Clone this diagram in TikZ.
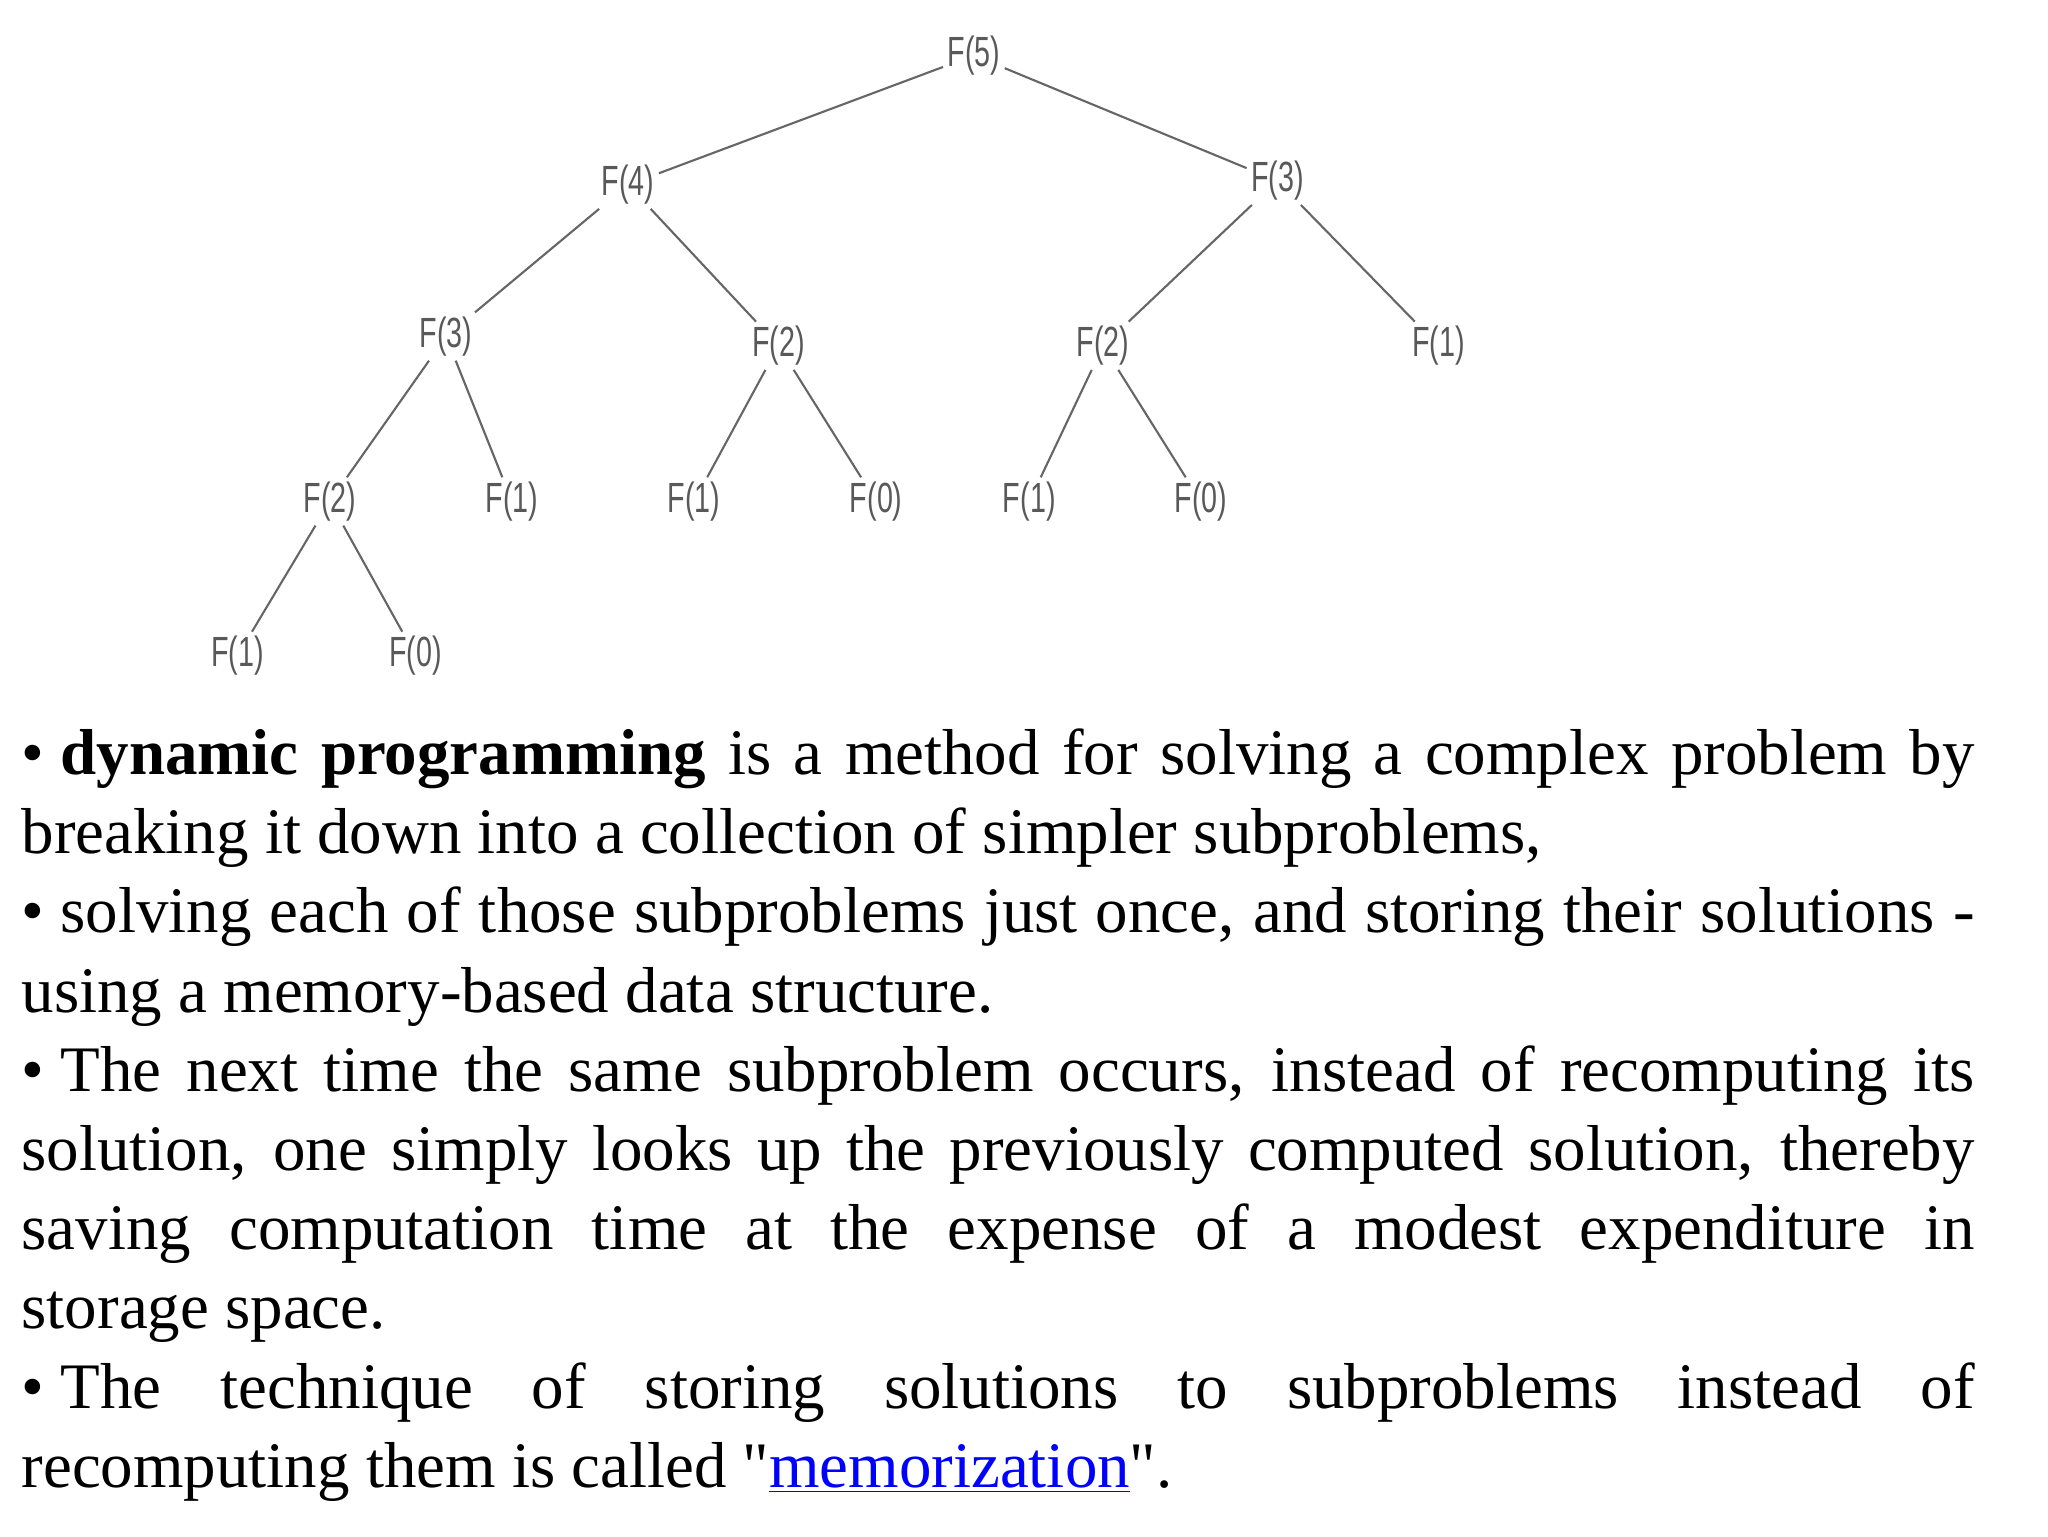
\documentclass[tikz,border=0pt]{standalone}
\usepackage{fontspec}
\setmainfont{Liberation Serif}
\newfontfamily\treefont[FakeStretch=0.68]{Liberation Sans}
\newcommand{\bul}{•\hspace{0.25em}}
\begin{document}
\begin{tikzpicture}[x=0.5pt,y=-0.5pt,
  tn/.style={font=\treefont\fontsize{16}{16}\selectfont, text=black!65, inner sep=1.5pt},
  ed/.style={draw=black!60, line width=0.8pt},
  ln/.style={anchor=base west, inner sep=0pt, font=\fontsize{24.6}{28}\selectfont}]
\useasboundingbox (0,0) rectangle (1552,1164);
\node[tn] (f5) at (738,42) {F(5)};
\node[tn] (f4) at (476,140) {F(4)};
\node[tn] (f3r) at (968,137) {F(3)};
\node[tn] (f3) at (338,255) {F(3)};
\node[tn] (f2a) at (590,262) {F(2)};
\node[tn] (f2b) at (836,262) {F(2)};
\node[tn] (f1r) at (1090,262) {F(1)};
\node[tn] (f2c) at (250,380) {F(2)};
\node[tn] (f1a) at (388,380) {F(1)};
\node[tn] (f1b) at (526,380) {F(1)};
\node[tn] (f0a) at (664,380) {F(0)};
\node[tn] (f1c) at (780,380) {F(1)};
\node[tn] (f0b) at (910,380) {F(0)};
\node[tn] (f1d) at (180,497) {F(1)};
\node[tn] (f0c) at (315,497) {F(0)};
\foreach \a/\b in {f5/f4,f5/f3r,f4/f3,f4/f2a,f3r/f2b,f3r/f1r,f3/f2c,f3/f1a,f2a/f1b,f2a/f0a,f2b/f1c,f2b/f0b,f2c/f1d,f2c/f0c}
  \draw[ed] (\a) -- (\b);
\node[ln] (l1) at (16,587) {\makebox[740pt][s]{\bul\textbf{dynamic programming} is a method for solving a complex problem by}};
\node[ln] (l2) at (16,647) {breaking it down into a collection of simpler subproblems,};
\node[ln] (l3) at (16,707) {\makebox[740pt][s]{\bul solving each of those subproblems just once, and storing their solutions -}};
\node[ln] (l4) at (16,767) {using a memory-based data structure.};
\node[ln] (l5) at (16,827) {\makebox[740pt][s]{\bul The next time the same subproblem occurs, instead of recomputing its}};
\node[ln] (l6) at (16,887) {\makebox[740pt][s]{solution, one simply looks up the previously computed solution, thereby}};
\node[ln] (l7) at (16,947) {\makebox[740pt][s]{saving computation time at the expense of a modest expenditure in}};
\node[ln] (l8) at (16,1007) {storage space.};
\node[ln] (l9) at (16,1067) {\makebox[740pt][s]{\bul The technique of storing solutions to subproblems instead of}};
\node[ln] (l10) at (16,1127) {recomputing them is called \textquotedbl\textcolor{blue}{\underline{memorization}}\textquotedbl.};
\end{tikzpicture}
\end{document}
